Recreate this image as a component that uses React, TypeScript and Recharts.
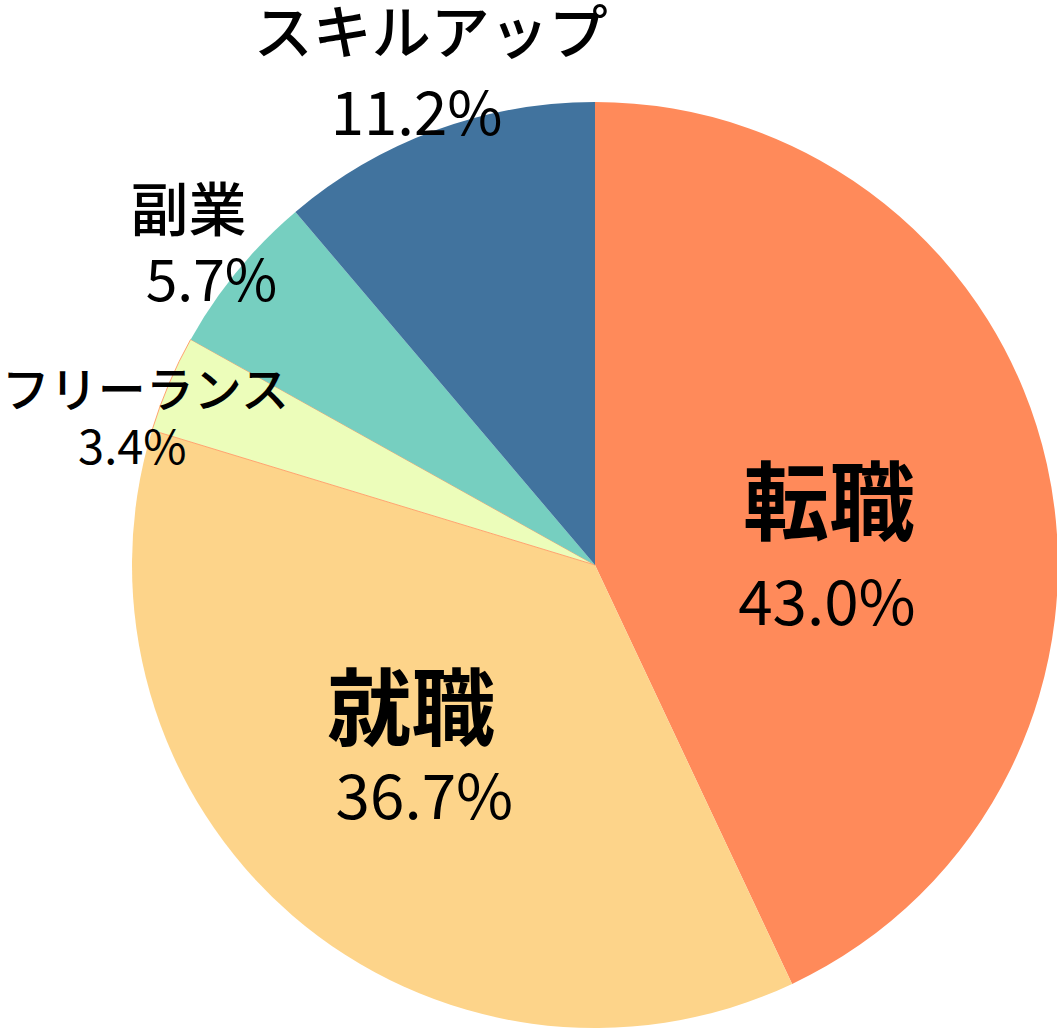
import { PieChart, Pie, Cell } from 'recharts'

const CATEGORIES = ['転職', '就職', 'フリーランス', '副業', 'スキルアップ']
const SHARES = [43.0, 36.7, 3.4, 5.7, 11.2]
const COLORS = ['#FF8A5A', '#FDD48A', '#ECFDBA', '#76CFC0', '#41739E']

const RADIAN = Math.PI / 180
const FONT = '"Noto Sans CJK JP", "Noto Sans", sans-serif'

// label placement per slice: radius factor + nudges, and text sizes
const LABEL_STYLE: Record<string, {
  rf: number; dx: number; dy: number; gap: number
  nameSize: number; pctSize: number; weight: number
  nameDx: number; pctDx: number
}> = {
  転職:         { rf: 0.5,  dx: 7,  dy: 33,  gap: 102, nameSize: 86, pctSize: 62, weight: 600, nameDx: 1,   pctDx: -1 },
  就職:         { rf: 0.56, dx: -8, dy: -14, gap: 90,  nameSize: 84, pctSize: 62, weight: 600, nameDx: -6,  pctDx: 7 },
  フリーランス: { rf: 1.06, dx: 0,  dy: 42,  gap: 57,  nameSize: 48, pctSize: 47, weight: 500, nameDx: 2,   pctDx: -11 },
  副業:         { rf: 1.1,  dx: 0,  dy: -1,  gap: 70,  nameSize: 58, pctSize: 57, weight: 500, nameDx: -13, pctDx: 10 },
  スキルアップ: { rf: 1.13, dx: 0,  dy: -5,  gap: 80,  nameSize: 59, pctSize: 60, weight: 500, nameDx: 16,  pctDx: 2 },
}

const data = CATEGORIES.map((name, i) => ({ name, value: SHARES[i] }))

function renderLabel(props: any) {
  const { cx, cy, midAngle, outerRadius, name, value } = props
  const s = LABEL_STYLE[name]
  const r = outerRadius * s.rf
  const x = cx + r * Math.cos(-midAngle * RADIAN) + s.dx
  const y = cy + r * Math.sin(-midAngle * RADIAN) + s.dy
  return (
    <g>
      <text
        x={x + s.nameDx}
        y={y - s.gap / 2}
        textAnchor="middle"
        dominantBaseline="central"
        fill="#000"
        fontFamily={FONT}
        fontSize={s.nameSize}
        fontWeight={s.weight}
      >
        {name}
      </text>
      <text
        x={x + s.pctDx}
        y={y + s.gap / 2}
        textAnchor="middle"
        dominantBaseline="central"
        fill="#000"
        fontFamily={FONT}
        fontSize={s.pctSize}
      >
        {value.toFixed(1)}%
      </text>
    </g>
  )
}

export default function App() {
  return (
    <div style={{ position: 'absolute', left: 0, top: 0, width: 1057, height: 1030, background: '#fff' }}>
      <PieChart width={1057} height={1030} margin={{ top: 0, right: 0, bottom: 0, left: 0 }}>
        <Pie
          data={data}
          dataKey="value"
          nameKey="name"
          cx={595}
          cy={565}
          outerRadius={463}
          startAngle={90}
          endAngle={-270}
          label={renderLabel}
          labelLine={false}
          isAnimationActive={false}
        >
          {data.map((d, i) => (
            <Cell
              key={d.name}
              fill={COLORS[i]}
              stroke={d.name === 'フリーランス' ? '#FFA36E' : 'none'}
              strokeWidth={d.name === 'フリーランス' ? 1 : 0}
            />
          ))}
        </Pie>
      </PieChart>
    </div>
  )
}
